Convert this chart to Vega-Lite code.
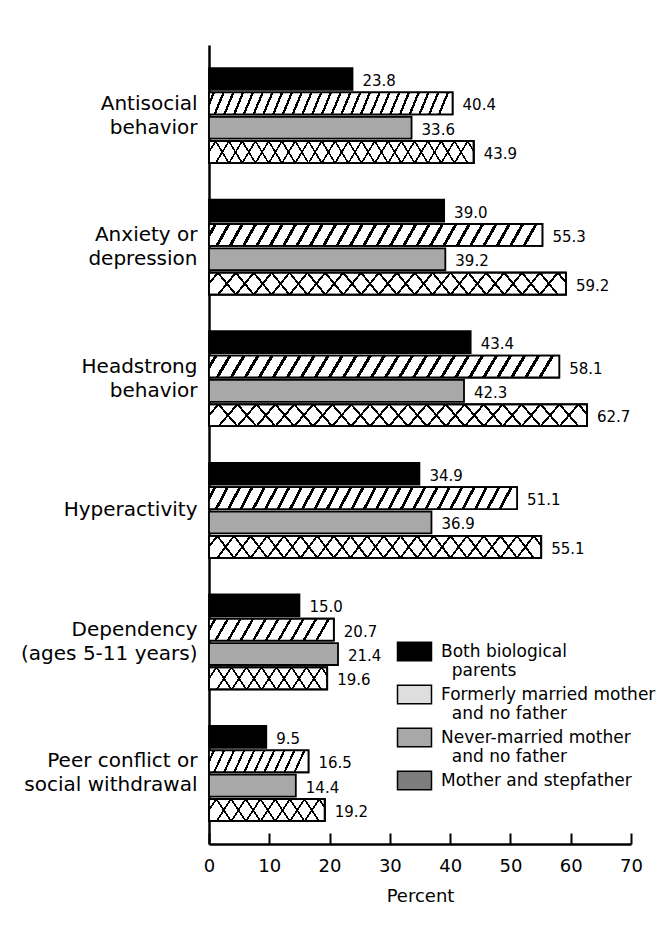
{
  "$schema": "https://vega.github.io/schema/vega-lite/v6.json",
  "autosize": {"type": "none"},
  "padding": {"left": 209, "top": 45, "right": 34, "bottom": 93},
  "width": 422,
  "height": 799,
  "background": "white",
  "config": {"view": {"stroke": null}, "font": "DejaVu Sans", "text": {"font": "DejaVu Sans"}},
  "data": {"values": [
    {"category": "Antisocial behavior", "series": "Both biological parents", "value": 23.8},
    {"category": "Antisocial behavior", "series": "Formerly married mother and no father", "value": 40.4},
    {"category": "Antisocial behavior", "series": "Never-married mother and no father", "value": 33.6},
    {"category": "Antisocial behavior", "series": "Mother and stepfather", "value": 43.9},
    {"category": "Anxiety or depression", "series": "Both biological parents", "value": 39.0},
    {"category": "Anxiety or depression", "series": "Formerly married mother and no father", "value": 55.3},
    {"category": "Anxiety or depression", "series": "Never-married mother and no father", "value": 39.2},
    {"category": "Anxiety or depression", "series": "Mother and stepfather", "value": 59.2},
    {"category": "Headstrong behavior", "series": "Both biological parents", "value": 43.4},
    {"category": "Headstrong behavior", "series": "Formerly married mother and no father", "value": 58.1},
    {"category": "Headstrong behavior", "series": "Never-married mother and no father", "value": 42.3},
    {"category": "Headstrong behavior", "series": "Mother and stepfather", "value": 62.7},
    {"category": "Hyperactivity", "series": "Both biological parents", "value": 34.9},
    {"category": "Hyperactivity", "series": "Formerly married mother and no father", "value": 51.1},
    {"category": "Hyperactivity", "series": "Never-married mother and no father", "value": 36.9},
    {"category": "Hyperactivity", "series": "Mother and stepfather", "value": 55.1},
    {"category": "Dependency (ages 5-11 years)", "series": "Both biological parents", "value": 15.0},
    {"category": "Dependency (ages 5-11 years)", "series": "Formerly married mother and no father", "value": 20.7},
    {"category": "Dependency (ages 5-11 years)", "series": "Never-married mother and no father", "value": 21.4},
    {"category": "Dependency (ages 5-11 years)", "series": "Mother and stepfather", "value": 19.6},
    {"category": "Peer conflict or social withdrawal", "series": "Both biological parents", "value": 9.5},
    {"category": "Peer conflict or social withdrawal", "series": "Formerly married mother and no father", "value": 16.5},
    {"category": "Peer conflict or social withdrawal", "series": "Never-married mother and no father", "value": 14.4},
    {"category": "Peer conflict or social withdrawal", "series": "Mother and stepfather", "value": 19.2}
  ]},
  "encoding": {
    "y": {
      "field": "category", "type": "nominal",
      "sort": ["Antisocial behavior", "Anxiety or depression", "Headstrong behavior", "Hyperactivity", "Dependency (ages 5-11 years)", "Peer conflict or social withdrawal"],
      "scale": {"paddingInner": 0.278, "paddingOuter": 0.175},
      "axis": {
        "title": null, "ticks": false, "domainColor": "black", "domainWidth": 2.5,
        "labelFont": "DejaVu Sans", "labelFontSize": 20, "labelColor": "black", "labelPadding": 12,
        "labelLineHeight": 24, "labelLimit": 300,
        "labelOffset": {"expr": "datum.value === 'Hyperactivity' ? 0 : -12"},
        "labelExpr": "datum.value === 'Antisocial behavior' ? ['Antisocial', 'behavior'] : datum.value === 'Anxiety or depression' ? ['Anxiety or', 'depression'] : datum.value === 'Headstrong behavior' ? ['Headstrong', 'behavior'] : datum.value === 'Dependency (ages 5-11 years)' ? ['Dependency', '(ages 5-11 years)'] : datum.value === 'Peer conflict or social withdrawal' ? ['Peer conflict or', 'social withdrawal'] : datum.label"
      }
    },
    "yOffset": {
      "field": "series", "type": "nominal",
      "sort": ["Both biological parents", "Formerly married mother and no father", "Never-married mother and no father", "Mother and stepfather"],
      "scale": {"paddingInner": 0.1, "paddingOuter": 0}
    },
    "x": {
      "field": "value", "type": "quantitative",
      "scale": {"domain": [0, 70], "nice": false},
      "axis": {
        "title": "Percent", "values": [0, 10, 20, 30, 40, 50, 60, 70], "grid": false,
        "domainColor": "black", "domainWidth": 2.5, "tickColor": "black", "tickWidth": 2, "tickSize": -11,
        "labelFont": "DejaVu Sans", "labelFontSize": 18, "labelColor": "black", "labelPadding": 24,
        "labelFlush": false, "labelOverlap": false,
        "titleFont": "DejaVu Sans", "titleFontSize": 18, "titleFontWeight": "normal", "titleColor": "black", "titlePadding": 12
      }
    }
  },
  "layer": [
    {
      "mark": {"type": "bar", "stroke": "black", "strokeWidth": 1.8},
      "encoding": {
        "color": {
          "field": "series", "type": "nominal",
          "sort": ["Both biological parents", "Formerly married mother and no father", "Never-married mother and no father", "Mother and stepfather"],
          "scale": {"range": ["#000000", "#dedede", "#a8a8a8", "#7d7d7d"]},
          "legend": {
            "title": null, "orient": "none", "legendX": 196, "legendY": 597, "padding": 0,
            "symbolType": "M-2,-1.1H2V1.1H-2Z", "symbolSize": 289,
            "symbolStrokeColor": "black", "symbolStrokeWidth": 1.5, "symbolOpacity": 1,
            "labelFont": "DejaVu Sans", "labelFontSize": 17, "labelColor": "black", "labelLimit": 400,
            "labelOffset": 17, "labelBaseline": "middle", "labelLineHeight": 21, "rowPadding": 3,
            "labelExpr": "datum.label === 'Both biological parents' ? ['Both biological', '\u200b\u00a0\u00a0parents'] : datum.label === 'Formerly married mother and no father' ? ['Formerly married mother', '\u200b\u00a0\u00a0and no father'] : datum.label === 'Never-married mother and no father' ? ['Never-married mother', '\u200b\u00a0\u00a0and no father'] : datum.label"
          }
        }
      }
    },
    {
      "transform": [{"filter": "datum.series === 'Formerly married mother and no father' && datum.value >= 30"}],
      "mark": {"type": "bar", "stroke": "black", "strokeWidth": 1.8, "fill": {"gradient": "linear", "x1": 0, "y1": 0, "x2": 1, "y2": 0.037, "stops": [
        {"offset":0,"color":"#fff"},
        {"offset":0.015,"color":"#fff"},{"offset":0.015,"color":"#000"},{"offset":0.025,"color":"#000"},{"offset":0.025,"color":"#fff"},
        {"offset":0.055,"color":"#fff"},{"offset":0.055,"color":"#000"},{"offset":0.065,"color":"#000"},{"offset":0.065,"color":"#fff"},
        {"offset":0.095,"color":"#fff"},{"offset":0.095,"color":"#000"},{"offset":0.105,"color":"#000"},{"offset":0.105,"color":"#fff"},
        {"offset":0.135,"color":"#fff"},{"offset":0.135,"color":"#000"},{"offset":0.145,"color":"#000"},{"offset":0.145,"color":"#fff"},
        {"offset":0.175,"color":"#fff"},{"offset":0.175,"color":"#000"},{"offset":0.185,"color":"#000"},{"offset":0.185,"color":"#fff"},
        {"offset":0.215,"color":"#fff"},{"offset":0.215,"color":"#000"},{"offset":0.225,"color":"#000"},{"offset":0.225,"color":"#fff"},
        {"offset":0.255,"color":"#fff"},{"offset":0.255,"color":"#000"},{"offset":0.265,"color":"#000"},{"offset":0.265,"color":"#fff"},
        {"offset":0.295,"color":"#fff"},{"offset":0.295,"color":"#000"},{"offset":0.305,"color":"#000"},{"offset":0.305,"color":"#fff"},
        {"offset":0.335,"color":"#fff"},{"offset":0.335,"color":"#000"},{"offset":0.345,"color":"#000"},{"offset":0.345,"color":"#fff"},
        {"offset":0.375,"color":"#fff"},{"offset":0.375,"color":"#000"},{"offset":0.385,"color":"#000"},{"offset":0.385,"color":"#fff"},
        {"offset":0.415,"color":"#fff"},{"offset":0.415,"color":"#000"},{"offset":0.425,"color":"#000"},{"offset":0.425,"color":"#fff"},
        {"offset":0.455,"color":"#fff"},{"offset":0.455,"color":"#000"},{"offset":0.465,"color":"#000"},{"offset":0.465,"color":"#fff"},
        {"offset":0.495,"color":"#fff"},{"offset":0.495,"color":"#000"},{"offset":0.505,"color":"#000"},{"offset":0.505,"color":"#fff"},
        {"offset":0.535,"color":"#fff"},{"offset":0.535,"color":"#000"},{"offset":0.545,"color":"#000"},{"offset":0.545,"color":"#fff"},
        {"offset":0.575,"color":"#fff"},{"offset":0.575,"color":"#000"},{"offset":0.585,"color":"#000"},{"offset":0.585,"color":"#fff"},
        {"offset":0.615,"color":"#fff"},{"offset":0.615,"color":"#000"},{"offset":0.625,"color":"#000"},{"offset":0.625,"color":"#fff"},
        {"offset":0.655,"color":"#fff"},{"offset":0.655,"color":"#000"},{"offset":0.665,"color":"#000"},{"offset":0.665,"color":"#fff"},
        {"offset":0.695,"color":"#fff"},{"offset":0.695,"color":"#000"},{"offset":0.705,"color":"#000"},{"offset":0.705,"color":"#fff"},
        {"offset":0.735,"color":"#fff"},{"offset":0.735,"color":"#000"},{"offset":0.745,"color":"#000"},{"offset":0.745,"color":"#fff"},
        {"offset":0.775,"color":"#fff"},{"offset":0.775,"color":"#000"},{"offset":0.785,"color":"#000"},{"offset":0.785,"color":"#fff"},
        {"offset":0.815,"color":"#fff"},{"offset":0.815,"color":"#000"},{"offset":0.825,"color":"#000"},{"offset":0.825,"color":"#fff"},
        {"offset":0.855,"color":"#fff"},{"offset":0.855,"color":"#000"},{"offset":0.865,"color":"#000"},{"offset":0.865,"color":"#fff"},
        {"offset":0.895,"color":"#fff"},{"offset":0.895,"color":"#000"},{"offset":0.905,"color":"#000"},{"offset":0.905,"color":"#fff"},
        {"offset":0.935,"color":"#fff"},{"offset":0.935,"color":"#000"},{"offset":0.945,"color":"#000"},{"offset":0.945,"color":"#fff"},
        {"offset":0.975,"color":"#fff"},{"offset":0.975,"color":"#000"},{"offset":0.985,"color":"#000"},{"offset":0.985,"color":"#fff"},
        {"offset":1,"color":"#fff"}
      ]}}
    },
    {
      "transform": [{"filter": "datum.series === 'Formerly married mother and no father' && datum.value < 30"}],
      "mark": {"type": "bar", "stroke": "black", "strokeWidth": 1.8, "fill": {"gradient": "linear", "x1": 0, "y1": 0, "x2": 1, "y2": 0.1, "stops": [
        {"offset":0,"color":"#fff"},
        {"offset":0.039,"color":"#fff"},{"offset":0.039,"color":"#000"},{"offset":0.061,"color":"#000"},{"offset":0.061,"color":"#fff"},
        {"offset":0.139,"color":"#fff"},{"offset":0.139,"color":"#000"},{"offset":0.161,"color":"#000"},{"offset":0.161,"color":"#fff"},
        {"offset":0.239,"color":"#fff"},{"offset":0.239,"color":"#000"},{"offset":0.261,"color":"#000"},{"offset":0.261,"color":"#fff"},
        {"offset":0.339,"color":"#fff"},{"offset":0.339,"color":"#000"},{"offset":0.361,"color":"#000"},{"offset":0.361,"color":"#fff"},
        {"offset":0.439,"color":"#fff"},{"offset":0.439,"color":"#000"},{"offset":0.461,"color":"#000"},{"offset":0.461,"color":"#fff"},
        {"offset":0.539,"color":"#fff"},{"offset":0.539,"color":"#000"},{"offset":0.561,"color":"#000"},{"offset":0.561,"color":"#fff"},
        {"offset":0.639,"color":"#fff"},{"offset":0.639,"color":"#000"},{"offset":0.661,"color":"#000"},{"offset":0.661,"color":"#fff"},
        {"offset":0.739,"color":"#fff"},{"offset":0.739,"color":"#000"},{"offset":0.761,"color":"#000"},{"offset":0.761,"color":"#fff"},
        {"offset":0.839,"color":"#fff"},{"offset":0.839,"color":"#000"},{"offset":0.861,"color":"#000"},{"offset":0.861,"color":"#fff"},
        {"offset":0.939,"color":"#fff"},{"offset":0.939,"color":"#000"},{"offset":0.961,"color":"#000"},{"offset":0.961,"color":"#fff"},
        {"offset":1,"color":"#fff"}
      ]}}
    },
    {
      "transform": [{"filter": "datum.series === 'Mother and stepfather' && datum.value >= 30"}],
      "mark": {"type": "bar", "stroke": "black", "strokeWidth": 1.8, "fill": {"gradient": "linear", "x1": 0, "y1": 0, "x2": 1, "y2": 0.05, "stops": [
        {"offset":0,"color":"#fff"},
        {"offset":0.0215,"color":"#fff"},{"offset":0.0215,"color":"#000"},{"offset":0.0285,"color":"#000"},{"offset":0.0285,"color":"#fff"},
        {"offset":0.0715,"color":"#fff"},{"offset":0.0715,"color":"#000"},{"offset":0.0785,"color":"#000"},{"offset":0.0785,"color":"#fff"},
        {"offset":0.1215,"color":"#fff"},{"offset":0.1215,"color":"#000"},{"offset":0.1285,"color":"#000"},{"offset":0.1285,"color":"#fff"},
        {"offset":0.1715,"color":"#fff"},{"offset":0.1715,"color":"#000"},{"offset":0.1785,"color":"#000"},{"offset":0.1785,"color":"#fff"},
        {"offset":0.2215,"color":"#fff"},{"offset":0.2215,"color":"#000"},{"offset":0.2285,"color":"#000"},{"offset":0.2285,"color":"#fff"},
        {"offset":0.2715,"color":"#fff"},{"offset":0.2715,"color":"#000"},{"offset":0.2785,"color":"#000"},{"offset":0.2785,"color":"#fff"},
        {"offset":0.3215,"color":"#fff"},{"offset":0.3215,"color":"#000"},{"offset":0.3285,"color":"#000"},{"offset":0.3285,"color":"#fff"},
        {"offset":0.3715,"color":"#fff"},{"offset":0.3715,"color":"#000"},{"offset":0.3785,"color":"#000"},{"offset":0.3785,"color":"#fff"},
        {"offset":0.4215,"color":"#fff"},{"offset":0.4215,"color":"#000"},{"offset":0.4285,"color":"#000"},{"offset":0.4285,"color":"#fff"},
        {"offset":0.4715,"color":"#fff"},{"offset":0.4715,"color":"#000"},{"offset":0.4785,"color":"#000"},{"offset":0.4785,"color":"#fff"},
        {"offset":0.5215,"color":"#fff"},{"offset":0.5215,"color":"#000"},{"offset":0.5285,"color":"#000"},{"offset":0.5285,"color":"#fff"},
        {"offset":0.5715,"color":"#fff"},{"offset":0.5715,"color":"#000"},{"offset":0.5785,"color":"#000"},{"offset":0.5785,"color":"#fff"},
        {"offset":0.6215,"color":"#fff"},{"offset":0.6215,"color":"#000"},{"offset":0.6285,"color":"#000"},{"offset":0.6285,"color":"#fff"},
        {"offset":0.6715,"color":"#fff"},{"offset":0.6715,"color":"#000"},{"offset":0.6785,"color":"#000"},{"offset":0.6785,"color":"#fff"},
        {"offset":0.7215,"color":"#fff"},{"offset":0.7215,"color":"#000"},{"offset":0.7285,"color":"#000"},{"offset":0.7285,"color":"#fff"},
        {"offset":0.7715,"color":"#fff"},{"offset":0.7715,"color":"#000"},{"offset":0.7785,"color":"#000"},{"offset":0.7785,"color":"#fff"},
        {"offset":0.8215,"color":"#fff"},{"offset":0.8215,"color":"#000"},{"offset":0.8285,"color":"#000"},{"offset":0.8285,"color":"#fff"},
        {"offset":0.8715,"color":"#fff"},{"offset":0.8715,"color":"#000"},{"offset":0.8785,"color":"#000"},{"offset":0.8785,"color":"#fff"},
        {"offset":0.9215,"color":"#fff"},{"offset":0.9215,"color":"#000"},{"offset":0.9285,"color":"#000"},{"offset":0.9285,"color":"#fff"},
        {"offset":0.9715,"color":"#fff"},{"offset":0.9715,"color":"#000"},{"offset":0.9785,"color":"#000"},{"offset":0.9785,"color":"#fff"},
        {"offset":1,"color":"#fff"}
      ]}}
    },
    {
      "transform": [{"filter": "datum.series === 'Mother and stepfather' && datum.value >= 30"}],
      "mark": {"type": "bar", "stroke": "black", "strokeWidth": 1.8, "fill": {"gradient": "linear", "x1": 0, "y1": 0, "x2": 1, "y2": -0.05, "stops": [
        {"offset":0,"color":"rgba(255,255,255,0)"},
        {"offset":0.0215,"color":"rgba(255,255,255,0)"},{"offset":0.0215,"color":"#000"},{"offset":0.0285,"color":"#000"},{"offset":0.0285,"color":"rgba(255,255,255,0)"},
        {"offset":0.0715,"color":"rgba(255,255,255,0)"},{"offset":0.0715,"color":"#000"},{"offset":0.0785,"color":"#000"},{"offset":0.0785,"color":"rgba(255,255,255,0)"},
        {"offset":0.1215,"color":"rgba(255,255,255,0)"},{"offset":0.1215,"color":"#000"},{"offset":0.1285,"color":"#000"},{"offset":0.1285,"color":"rgba(255,255,255,0)"},
        {"offset":0.1715,"color":"rgba(255,255,255,0)"},{"offset":0.1715,"color":"#000"},{"offset":0.1785,"color":"#000"},{"offset":0.1785,"color":"rgba(255,255,255,0)"},
        {"offset":0.2215,"color":"rgba(255,255,255,0)"},{"offset":0.2215,"color":"#000"},{"offset":0.2285,"color":"#000"},{"offset":0.2285,"color":"rgba(255,255,255,0)"},
        {"offset":0.2715,"color":"rgba(255,255,255,0)"},{"offset":0.2715,"color":"#000"},{"offset":0.2785,"color":"#000"},{"offset":0.2785,"color":"rgba(255,255,255,0)"},
        {"offset":0.3215,"color":"rgba(255,255,255,0)"},{"offset":0.3215,"color":"#000"},{"offset":0.3285,"color":"#000"},{"offset":0.3285,"color":"rgba(255,255,255,0)"},
        {"offset":0.3715,"color":"rgba(255,255,255,0)"},{"offset":0.3715,"color":"#000"},{"offset":0.3785,"color":"#000"},{"offset":0.3785,"color":"rgba(255,255,255,0)"},
        {"offset":0.4215,"color":"rgba(255,255,255,0)"},{"offset":0.4215,"color":"#000"},{"offset":0.4285,"color":"#000"},{"offset":0.4285,"color":"rgba(255,255,255,0)"},
        {"offset":0.4715,"color":"rgba(255,255,255,0)"},{"offset":0.4715,"color":"#000"},{"offset":0.4785,"color":"#000"},{"offset":0.4785,"color":"rgba(255,255,255,0)"},
        {"offset":0.5215,"color":"rgba(255,255,255,0)"},{"offset":0.5215,"color":"#000"},{"offset":0.5285,"color":"#000"},{"offset":0.5285,"color":"rgba(255,255,255,0)"},
        {"offset":0.5715,"color":"rgba(255,255,255,0)"},{"offset":0.5715,"color":"#000"},{"offset":0.5785,"color":"#000"},{"offset":0.5785,"color":"rgba(255,255,255,0)"},
        {"offset":0.6215,"color":"rgba(255,255,255,0)"},{"offset":0.6215,"color":"#000"},{"offset":0.6285,"color":"#000"},{"offset":0.6285,"color":"rgba(255,255,255,0)"},
        {"offset":0.6715,"color":"rgba(255,255,255,0)"},{"offset":0.6715,"color":"#000"},{"offset":0.6785,"color":"#000"},{"offset":0.6785,"color":"rgba(255,255,255,0)"},
        {"offset":0.7215,"color":"rgba(255,255,255,0)"},{"offset":0.7215,"color":"#000"},{"offset":0.7285,"color":"#000"},{"offset":0.7285,"color":"rgba(255,255,255,0)"},
        {"offset":0.7715,"color":"rgba(255,255,255,0)"},{"offset":0.7715,"color":"#000"},{"offset":0.7785,"color":"#000"},{"offset":0.7785,"color":"rgba(255,255,255,0)"},
        {"offset":0.8215,"color":"rgba(255,255,255,0)"},{"offset":0.8215,"color":"#000"},{"offset":0.8285,"color":"#000"},{"offset":0.8285,"color":"rgba(255,255,255,0)"},
        {"offset":0.8715,"color":"rgba(255,255,255,0)"},{"offset":0.8715,"color":"#000"},{"offset":0.8785,"color":"#000"},{"offset":0.8785,"color":"rgba(255,255,255,0)"},
        {"offset":0.9215,"color":"rgba(255,255,255,0)"},{"offset":0.9215,"color":"#000"},{"offset":0.9285,"color":"#000"},{"offset":0.9285,"color":"rgba(255,255,255,0)"},
        {"offset":0.9715,"color":"rgba(255,255,255,0)"},{"offset":0.9715,"color":"#000"},{"offset":0.9785,"color":"#000"},{"offset":0.9785,"color":"rgba(255,255,255,0)"},
        {"offset":1,"color":"rgba(255,255,255,0)"}
      ]}}
    },
    {
      "transform": [{"filter": "datum.series === 'Mother and stepfather' && datum.value < 30"}],
      "mark": {"type": "bar", "stroke": "black", "strokeWidth": 1.8, "fill": {"gradient": "linear", "x1": 0, "y1": 0, "x2": 1, "y2": 0.125, "stops": [
        {"offset":0,"color":"#fff"},
        {"offset":0.054,"color":"#fff"},{"offset":0.054,"color":"#000"},{"offset":0.071,"color":"#000"},{"offset":0.071,"color":"#fff"},
        {"offset":0.179,"color":"#fff"},{"offset":0.179,"color":"#000"},{"offset":0.196,"color":"#000"},{"offset":0.196,"color":"#fff"},
        {"offset":0.304,"color":"#fff"},{"offset":0.304,"color":"#000"},{"offset":0.321,"color":"#000"},{"offset":0.321,"color":"#fff"},
        {"offset":0.429,"color":"#fff"},{"offset":0.429,"color":"#000"},{"offset":0.446,"color":"#000"},{"offset":0.446,"color":"#fff"},
        {"offset":0.554,"color":"#fff"},{"offset":0.554,"color":"#000"},{"offset":0.571,"color":"#000"},{"offset":0.571,"color":"#fff"},
        {"offset":0.679,"color":"#fff"},{"offset":0.679,"color":"#000"},{"offset":0.696,"color":"#000"},{"offset":0.696,"color":"#fff"},
        {"offset":0.804,"color":"#fff"},{"offset":0.804,"color":"#000"},{"offset":0.821,"color":"#000"},{"offset":0.821,"color":"#fff"},
        {"offset":0.929,"color":"#fff"},{"offset":0.929,"color":"#000"},{"offset":0.946,"color":"#000"},{"offset":0.946,"color":"#fff"},
        {"offset":1,"color":"#fff"}
      ]}}
    },
    {
      "transform": [{"filter": "datum.series === 'Mother and stepfather' && datum.value < 30"}],
      "mark": {"type": "bar", "stroke": "black", "strokeWidth": 1.8, "fill": {"gradient": "linear", "x1": 0, "y1": 0, "x2": 1, "y2": -0.125, "stops": [
        {"offset":0,"color":"rgba(255,255,255,0)"},
        {"offset":0.054,"color":"rgba(255,255,255,0)"},{"offset":0.054,"color":"#000"},{"offset":0.071,"color":"#000"},{"offset":0.071,"color":"rgba(255,255,255,0)"},
        {"offset":0.179,"color":"rgba(255,255,255,0)"},{"offset":0.179,"color":"#000"},{"offset":0.196,"color":"#000"},{"offset":0.196,"color":"rgba(255,255,255,0)"},
        {"offset":0.304,"color":"rgba(255,255,255,0)"},{"offset":0.304,"color":"#000"},{"offset":0.321,"color":"#000"},{"offset":0.321,"color":"rgba(255,255,255,0)"},
        {"offset":0.429,"color":"rgba(255,255,255,0)"},{"offset":0.429,"color":"#000"},{"offset":0.446,"color":"#000"},{"offset":0.446,"color":"rgba(255,255,255,0)"},
        {"offset":0.554,"color":"rgba(255,255,255,0)"},{"offset":0.554,"color":"#000"},{"offset":0.571,"color":"#000"},{"offset":0.571,"color":"rgba(255,255,255,0)"},
        {"offset":0.679,"color":"rgba(255,255,255,0)"},{"offset":0.679,"color":"#000"},{"offset":0.696,"color":"#000"},{"offset":0.696,"color":"rgba(255,255,255,0)"},
        {"offset":0.804,"color":"rgba(255,255,255,0)"},{"offset":0.804,"color":"#000"},{"offset":0.821,"color":"#000"},{"offset":0.821,"color":"rgba(255,255,255,0)"},
        {"offset":0.929,"color":"rgba(255,255,255,0)"},{"offset":0.929,"color":"#000"},{"offset":0.946,"color":"#000"},{"offset":0.946,"color":"rgba(255,255,255,0)"},
        {"offset":1,"color":"rgba(255,255,255,0)"}
      ]}}
    },
    {
      "mark": {"type": "text", "align": "left", "baseline": "middle", "dx": 10, "dy": 2, "font": "DejaVu Sans", "fontSize": 15, "fill": "black"},
      "encoding": {"text": {"field": "value", "type": "quantitative", "format": ".1f"}}
    }
  ]
}
